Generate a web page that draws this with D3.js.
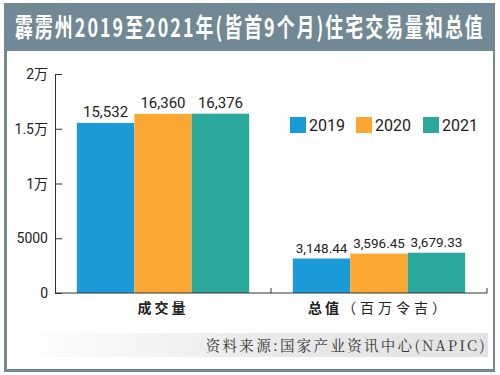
<!DOCTYPE html>
<html lang="zh">
<head>
<meta charset="utf-8">
<script src="https://d3js.org/d3.v7.min.js"></script>
<style>
  body { margin: 0; background: #fff; }
  svg { display: block; }
</style>
</head>
<body>
<div id="chart"></div>
<script>
// data
var categories = ["成交量", "总值"];
var categoryNotes = ["", "（百万令吉）"];
var years = ["2019", "2020", "2021"];
var volume = [15532, 16360, 16376];
var value = [3148.44, 3596.45, 3679.33];
var volumeLabels = ["15,532", "16,360", "16,376"];
var valueLabels = ["3,148.44", "3,596.45", "3,679.33"];
var yTicks = [0, 5000, 10000, 15000, 20000];
var yTickLabels = ["0", "5000", "1万", "1.5万", "2万"];
var colors = ["#1b9ad8", "#fba832", "#2ba89c"];

var W = 500, H = 375;
var svg = d3.select("#chart").append("svg")
    .attr("width", W).attr("height", H);

// frame + title bar
svg.append("rect").attr("x", 4).attr("y", 3).attr("width", 491).attr("height", 369)
    .attr("fill", "#718995");
svg.append("rect").attr("x", 7).attr("y", 51).attr("width", 486).attr("height", 318)
    .attr("fill", "#fff");
var title = svg.append("text")
    .attr("x", 0).attr("y", 0)
    .attr("fill", "#fff")
    .style("font-family", "'Noto Sans CJK SC', sans-serif")
    .style("font-weight", "bold")
    .style("font-size", "26px")
    .style("letter-spacing", "3px")
    .text("霹雳州2019至2021年(皆首9个月)住宅交易量和总值");
// squeeze the title horizontally to fit the bar (condensed face in the original)
var tw = title.node().getComputedTextLength();
var sx = 470 / tw;
title.attr("transform", "translate(15,37) scale(" + sx + ",1)");

var x0 = 55, x1 = 487, yTop = 74, yBot = 293;

var x = d3.scaleBand().domain(categories).range([x0, x1]);
var xs = d3.scaleBand().domain(years).range([0, x.bandwidth()]).paddingOuter(0.38).paddingInner(0);
var y = d3.scaleLinear().domain([0, 20000]).range([yBot, yTop]);

// y axis
var yAxis = svg.append("g").attr("transform", "translate(" + x0 + ",0)")
    .call(d3.axisRight(y).tickValues(yTicks).tickSize(7).tickFormat(""));
yAxis.select(".domain").attr("stroke", "#333");
yAxis.selectAll(".tick line").attr("stroke", "#333");
svg.selectAll(".ylab").data(yTicks).enter().append("text")
    .attr("x", x0 - 7).attr("y", function(d){ return y(d) + 5; })
    .attr("text-anchor", "end")
    .style("font-family", "Roboto, 'Noto Sans CJK SC', sans-serif")
    .style("font-size", "14px")
    .attr("fill", "#222")
    .text(function(d, i){ return yTickLabels[i]; });

// bars
var groups = [volume, value];
var labels = [volumeLabels, valueLabels];
categories.forEach(function(c, ci) {
  var g = svg.append("g").attr("transform", "translate(" + x(c) + ",0)");
  g.selectAll("rect").data(groups[ci]).enter().append("rect")
    .attr("x", function(d, i){ return xs(years[i]); })
    .attr("width", xs.bandwidth())
    .attr("y", function(d){ return y(d); })
    .attr("height", function(d){ return yBot - y(d); })
    .attr("fill", function(d, i){ return colors[i]; });
  g.selectAll("text").data(groups[ci]).enter().append("text")
    .attr("x", function(d, i){ return xs(years[i]) + xs.bandwidth() / 2; })
    .attr("y", function(d){ return y(d) - 6; })
    .attr("text-anchor", "middle")
    .style("font-family", "Roboto, sans-serif")
    .style("font-size", ci == 0 ? "15px" : "13.5px")
    .attr("fill", "#222")
    .text(function(d, i){ return labels[ci][i]; });
});

// x axis with inner ticks at band edges
svg.append("line").attr("x1", x0).attr("x2", x1).attr("y1", yBot).attr("y2", yBot)
    .attr("stroke", "#333");
svg.selectAll(".xt").data(categories).enter().append("line")
    .attr("x1", function(d){ return x(d) + x.bandwidth(); })
    .attr("x2", function(d){ return x(d) + x.bandwidth(); })
    .attr("y1", yBot).attr("y2", yBot - 5)
    .attr("stroke", "#333");
var xl = svg.selectAll(".xlab").data(categories).enter().append("text")
    .attr("x", function(d){ return x(d) + x.bandwidth() / 2; })
    .attr("y", 313)
    .attr("text-anchor", "middle")
    .style("font-family", "'Noto Sans CJK SC', sans-serif")
    .style("font-size", "14px")
    .style("letter-spacing", "3px")
    .attr("fill", "#222");
xl.append("tspan").style("font-weight", "bold").text(function(d){ return d; });
xl.append("tspan").style("font-weight", "normal").style("letter-spacing", "4px")
    .text(function(d, i){ return categoryNotes[i]; });

// legend
var legX = [290, 356, 423];
years.forEach(function(yr, i) {
  svg.append("rect").attr("x", legX[i]).attr("y", 117).attr("width", 16).attr("height", 16)
    .attr("fill", colors[i]);
  svg.append("text").attr("x", legX[i] + 19).attr("y", 131)
    .style("font-family", "Roboto, sans-serif")
    .style("font-size", "16px")
    .attr("fill", "#222")
    .text(yr);
});

// source band
var grad = svg.append("defs").append("linearGradient").attr("id", "src")
    .attr("x1", "0").attr("x2", "1").attr("y1", "0").attr("y2", "0");
grad.append("stop").attr("offset", "0").attr("stop-color", "#fff");
grad.append("stop").attr("offset", "0.55").attr("stop-color", "#e9e9e9");
grad.append("stop").attr("offset", "1").attr("stop-color", "#e3e3e3");
svg.append("rect").attr("x", 14).attr("y", 333).attr("width", 474).attr("height", 24)
    .attr("fill", "url(#src)");
svg.append("text").attr("x", 487).attr("y", 351)
    .attr("text-anchor", "end")
    .style("font-family", "'Noto Serif CJK SC', 'Noto Sans CJK SC', serif")
    .style("font-size", "14.5px")
    .style("letter-spacing", "2.3px")
    .attr("fill", "#333")
    .text("资料来源:国家产业资讯中心(NAPIC)");
</script>
</body>
</html>
